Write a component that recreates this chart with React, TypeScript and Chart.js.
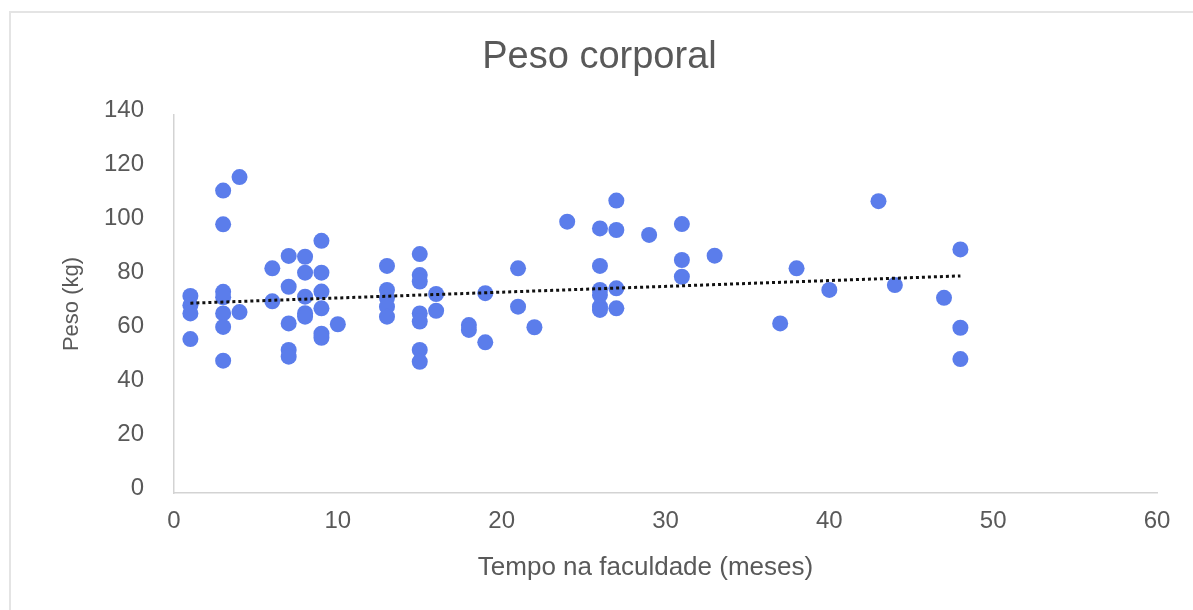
import React, { useEffect, useRef } from "react";
import { Chart, registerables } from "chart.js";

Chart.register(...registerables);

// Months spent at the university (x) and body weight in kg (y), one entry per student
const tempoMeses: number[] = [
  1, 1, 1, 1,
  3, 3, 3, 3, 3, 3, 3,
  4, 4,
  6, 6,
  7, 7, 7, 7, 7,
  8, 8, 8, 8, 8,
  9, 9, 9, 9, 9, 9,
  10,
  13, 13, 13, 13, 13,
  15, 15, 15, 15, 15, 15, 15,
  16, 16,
  18, 18,
  19, 19,
  21, 21,
  22,
  24,
  26, 26, 26, 26, 26, 26,
  27, 27, 27, 27,
  29,
  31, 31, 31,
  33,
  37,
  38,
  40,
  43,
  44,
  47,
  48, 48, 48,
];

const pesoKg: number[] = [
  73, 69.5, 66.5, 57,
  112, 99.5, 74.5, 72.5, 66.5, 61.5, 49,
  117, 67,
  83.2, 71,
  87.8, 76.4, 62.8, 53, 50.5,
  87.5, 81.6, 72.7, 66.6, 65.3,
  93.4, 81.6, 74.6, 68.4, 59, 57.5,
  62.5,
  84.1, 75.2, 72.2, 69, 65.3,
  88.5, 80.7, 78.3, 66.5, 63.5, 53, 48.6,
  73.7, 67.5,
  62.2, 60.4,
  74, 55.8,
  83.2, 69,
  61.4,
  100.5,
  98, 84.1, 75.2, 73.3, 69, 67.8,
  108.3, 97.4, 75.8, 68.4,
  95.6,
  99.6, 86.3, 80.1,
  87.9,
  62.8,
  83.2,
  75.2,
  108.1,
  77,
  72.3,
  90.2, 61.2, 49.6,
];

// Linear trend line endpoints
const trendX: number[] = [1, 48];
const trendY: number[] = [70.3, 80.4];

const titulo = "Peso corporal";
const tituloX = "Tempo na faculdade (meses)";
const tituloY = "Peso (kg)";

const FONT = "'Liberation Sans', Arial, sans-serif";
const TEXT_COLOR = "#595959";

// Draws the chart heading and the horizontal axis caption
const captions = {
  id: "captions",
  afterDraw(chart: any) {
    const { ctx, chartArea, width } = chart;
    ctx.save();
    ctx.fillStyle = TEXT_COLOR;
    ctx.textAlign = "center";

    ctx.font = `38px ${FONT}`;
    ctx.textBaseline = "alphabetic";
    ctx.fillText(titulo, width / 2 + 3, 68);

    ctx.font = `26px ${FONT}`;
    ctx.textBaseline = "middle";
    const cx = (chartArea.left + chartArea.right) / 2 - 20;
    ctx.fillText(tituloX, cx, chartArea.bottom + 75);
    ctx.restore();
  },
};

export default function App() {
  const canvasRef = useRef<HTMLCanvasElement | null>(null);

  useEffect(() => {
    if (!canvasRef.current) return;
    const pontos = tempoMeses.map((x, i) => ({ x, y: pesoKg[i] }));
    const tendencia = trendX.map((x, i) => ({ x, y: trendY[i] }));

    const chart = new Chart(canvasRef.current, {
      type: "scatter",
      data: {
        datasets: [
          {
            type: "line",
            label: "Tendência",
            data: tendencia,
            borderColor: "#111111",
            borderWidth: 3,
            borderDash: [3, 3],
            pointRadius: 0,
            fill: false,
          } as any,
          {
            label: "Peso",
            data: pontos,
            backgroundColor: "#5b7deb",
            borderWidth: 0,
            pointRadius: 8,
            pointHoverRadius: 8,
          },
        ],
      },
      options: {
        animation: false,
        responsive: false,
        layout: { padding: { left: 0, right: 36, top: 115, bottom: 0 } },
        plugins: {
          legend: { display: false },
          tooltip: { enabled: false },
          title: { display: false },
        },
        scales: {
          x: {
            type: "linear",
            position: "bottom",
            min: 0,
            max: 60,
            ticks: {
              stepSize: 10,
              color: TEXT_COLOR,
              font: { family: FONT, size: 24 },
              padding: 14,
            },
            grid: { display: false, drawTicks: false },
            border: { display: true, color: "#d3d3d3", width: 1.5 },
            afterFit(scale: any) {
              scale.height = 117;
            },
          },
          y: {
            type: "linear",
            min: 0,
            max: 140,
            ticks: {
              stepSize: 20,
              color: TEXT_COLOR,
              font: { family: FONT, size: 24 },
              padding: 30,
              labelOffset: -5,
            },
            grid: { display: false, drawTicks: false },
            border: { display: true, color: "#d3d3d3", width: 1.5 },
            title: {
              display: true,
              text: tituloY,
              color: TEXT_COLOR,
              font: { family: FONT, size: 22 },
              padding: { top: 58.8, bottom: 0 },
            },
            afterFit(scale: any) {
              scale.width = 174;
            },
          },
        },
      },
      plugins: [captions],
    });

    return () => chart.destroy();
  }, []);

  return (
    <div
      style={{
        position: "fixed",
        left: 0,
        top: 0,
        width: 1193,
        height: 610,
        overflow: "hidden",
        background: "#ffffff",
      }}
    >
      <div
        style={{
          position: "absolute",
          left: 9,
          top: 11,
          width: 1220,
          height: 640,
          border: "2px solid #e4e4e4",
        }}
      />
      <canvas
        ref={canvasRef}
        width={1193}
        height={610}
        style={{ position: "absolute", left: 0, top: 0, width: 1193, height: 610 }}
      />
    </div>
  );
}
